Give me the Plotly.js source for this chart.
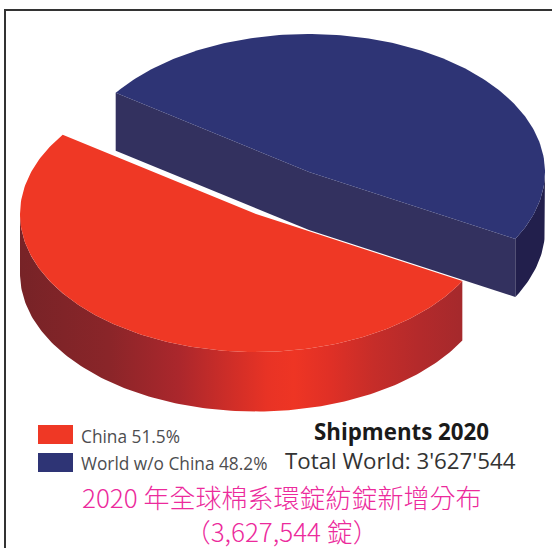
<!DOCTYPE html>
<html>
<head>
<meta charset="utf-8">
<script src="https://cdn.plot.ly/plotly-3.0.1.min.js"></script>
<style>html,body{margin:0;padding:0;background:#fff}#chart{width:552px;height:548px}</style>
</head>
<body>
<div id="chart"></div>
<script>
// Spindle shipment shares, percent of the world total
const categories = ["China", "World w/o China"];
const shares = [51.5, 48.2];
const legendLabels = ["China 51.5%", "World w/o China 48.2%"];
const chartTitle = "Shipments 2020";
const chartSubtitle = "Total World: 3'627'544";
const captionLines = ["2020 年全球棉系環錠紡錠新增分布", "（3,627,544 錠）"];

// Projected disc: horizontal and vertical radii, wall height, slice centres
const RX = 236, RY = 138, WALL = 58;
const centreWorld = [309, 172], centreChina = [256, 214];
const WALL_CHINA = 59.5;
const START_DEG = 145; // China starts here and runs counter-clockwise, World fills the rest

const total = shares[0] + shares[1];
const chinaEnd = START_DEG + shares[0] / total * 360;
const worldEnd = chinaEnd + shares[1] / total * 360;

function rim(c, deg) {
  const t = deg * Math.PI / 180;
  return [c[0] + RX * Math.cos(t), c[1] - RY * Math.sin(t)];
}
function arc(c, a0, a1, dy) {
  const xs = [], ys = [], n = Math.max(1, Math.ceil(Math.abs(a1 - a0)));
  for (let i = 0; i <= n; i++) {
    const p = rim(c, a0 + (a1 - a0) * i / n);
    xs.push(p[0]);
    ys.push(p[1] + dy);
  }
  return [xs, ys];
}
function poly(xs, ys, color, extra) {
  return Object.assign({
    type: "scatter", mode: "lines", x: xs, y: ys, fill: "toself",
    fillcolor: color, line: {width: 0, color: color}, hoverinfo: "skip", showlegend: false
  }, extra || {});
}
function wall(c, a0, a1, depth, color, extra) {
  const top = arc(c, a0, a1, 0), bot = arc(c, a1, a0, depth);
  return poly(top[0].concat(bot[0]), top[1].concat(bot[1]), color, extra);
}
function flatWall(p, q, depth, color) {
  return poly([p[0], q[0], q[0], p[0]], [p[1], q[1], q[1] + depth, p[1] + depth], color);
}
function face(c, a0, a1, color) {
  const a = arc(c, a0, a1, 0);
  return poly(a[0].concat([c[0]]), a[1].concat([c[1]]), color);
}

// World slice spans chinaEnd..worldEnd, which wraps round to START_DEG
const pStart = rim(centreWorld, chinaEnd), pEnd = rim(centreWorld, worldEnd);

const traces = [
  flatWall(pEnd, centreWorld, WALL, "#33315f"),
  flatWall(centreWorld, pStart, WALL, "#33315f"),
  wall(centreWorld, chinaEnd, 360, WALL, "#221f4c"),
  face(centreWorld, chinaEnd, worldEnd, "#2e3475"),
  wall(centreChina, 180, chinaEnd, WALL_CHINA, "#a5292c", {
    fillgradient: {
      type: "horizontal", start: 20, stop: 462,
      colorscale: [[0, "#772327"], [0.2, "#8a2529"], [0.36, "#ab272c"], [0.5, "#d62f27"],
                   [0.56, "#e83325"], [0.62, "#ee3524"], [0.7, "#e03026"], [0.8, "#c62d29"],
                   [0.9, "#b42a2b"], [1, "#a5292c"]]
    }
  }),
  face(centreChina, START_DEG, chinaEnd, "#ef3825")
];

const layout = {
  width: 552, height: 548, margin: {l: 0, r: 0, t: 0, b: 0},
  paper_bgcolor: "#fff", plot_bgcolor: "#fff", showlegend: false,
  xaxis: {range: [0, 552], visible: false, fixedrange: true},
  yaxis: {range: [548, 0], visible: false, fixedrange: true},
  shapes: [
    {type: "line", x0: 5, x1: 5, y0: 9, y1: 548, line: {color: "#333", width: 2}},
    {type: "line", x0: 4, x1: 552, y0: 10, y1: 10, line: {color: "#333", width: 2}},
    {type: "rect", x0: 38, x1: 73, y0: 425, y1: 444, fillcolor: "#ef3825", line: {width: 0}},
    {type: "rect", x0: 38, x1: 73, y0: 453, y1: 472, fillcolor: "#2e3475", line: {width: 0}}
  ],
  annotations: [
    {x: 79, y: 436, xanchor: "left", text: legendLabels[0], font: {family: "Open Sans", size: 17.3, color: "#4d4d4f"}},
    {x: 79, y: 463, xanchor: "left", text: legendLabels[1], font: {family: "Open Sans", size: 17.3, color: "#4d4d4f"}},
    {x: 401, y: 431, text: "<b>" + chartTitle + "</b>", font: {family: "Open Sans", size: 22.3, color: "#1a1a1a"}},
    {x: 400, y: 460, text: chartSubtitle, font: {family: "Open Sans", size: 22.3, color: "#333"}},
    {x: 281, y: 513, text: captionLines.join("<br>"), font: {family: "Noto Sans CJK TC", size: 26, weight: 300, color: "#ec2a9c"}}
  ].map(a => Object.assign({xref: "x", yref: "y", showarrow: false, yanchor: "middle"}, a))
};

Plotly.newPlot("chart", traces, layout, {staticPlot: true, displayModeBar: false});
</script>
</body>
</html>
